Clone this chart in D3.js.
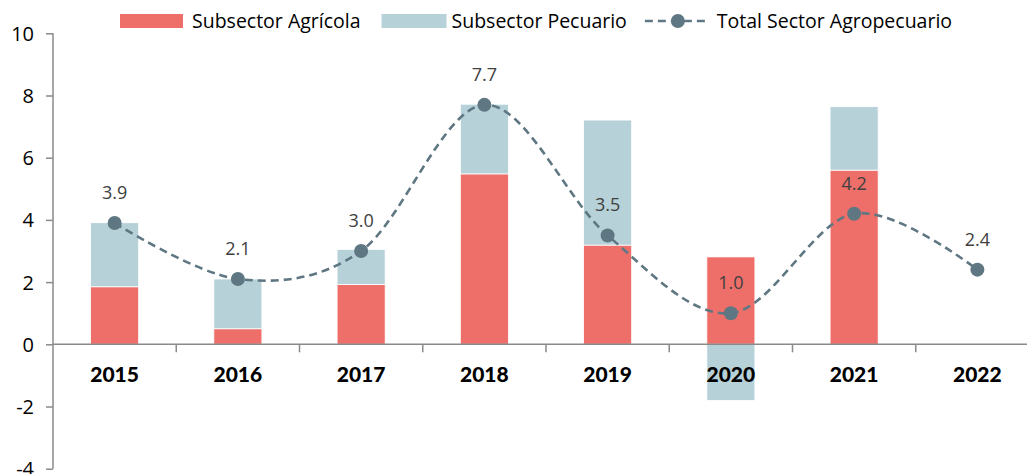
<!DOCTYPE html>
<html>
<head>
<meta charset="utf-8">
<script src="https://cdn.jsdelivr.net/npm/d3@7"></script>
<style>
  html, body { margin: 0; padding: 0; background: #fff; }
  svg { display: block; font-family: "Open Sans", sans-serif; }
</style>
</head>
<body>
<svg id="chart" width="1027" height="474"></svg>
<script>
// Growth by subsector (percentage points), 2015–2022
const years = ["2015", "2016", "2017", "2018", "2019", "2020", "2021", "2022"];
const agricola = [1.85, 0.50, 1.92, 5.48, 3.19, 2.81, 5.60, null];
const pecuario = [2.06, 1.60, 1.13, 2.24, 4.02, -1.81, 2.04, null];
const total = [3.9, 2.1, 3.0, 7.7, 3.5, 1.0, 4.2, 2.4];
const yTicks = [-4, -2, 0, 2, 4, 6, 8, 10];
const seriesNames = ["Subsector Agrícola", "Subsector Pecuario", "Total Sector Agropecuario"];

const colors = { agr: "#EE6F69", pec: "#B7D1D8", line: "#5F7782", axis: "#8A8A8A", label: "#404040" };

const svg = d3.select("#chart");

const x = d3.scaleBand().domain(years).range([53, 1039]).paddingInner(0.61).paddingOuter(0.305);
const xBoundary = d3.scaleBand().domain(years).range([53, 1039]).padding(0);
const y = d3.scaleLinear().domain([-4, 10]).range([468.7, 33.3]);

// Stacked bars: positive values stack upward from zero, negative ones downward
const stacks = years.map((yr, i) => {
  const parts = [];
  let pos = 0, neg = 0;
  [[agricola[i], colors.agr], [pecuario[i], colors.pec]].forEach(([v, c]) => {
    if (v == null) return;
    if (v >= 0) { parts.push({ y0: pos, y1: pos + v, c }); pos += v; }
    else { parts.push({ y0: neg, y1: neg + v, c }); neg += v; }
  });
  return { yr, parts };
});

const barG = svg.append("g");
stacks.forEach(s => {
  barG.selectAll(null).data(s.parts).enter().append("rect")
    .attr("x", x(s.yr))
    .attr("width", x.bandwidth())
    .attr("y", d => y(Math.max(d.y0, d.y1)))
    .attr("height", d => Math.abs(y(d.y0) - y(d.y1)))
    .attr("fill", d => d.c)
    .attr("stroke", "#ffffff")
    .attr("stroke-width", 0.8);
});

// Y axis
const yAxis = d3.axisLeft(y).tickValues(yTicks).tickSize(7).tickPadding(12).tickFormat(d => String(d));
const yG = svg.append("g").attr("transform", "translate(53,0)").call(yAxis);
yG.select(".domain").attr("stroke", colors.axis).attr("stroke-width", 1.5).attr("d", `M0,${y(10)}V${y(-4)}`);
yG.selectAll(".tick line").attr("stroke", colors.axis).attr("stroke-width", 1.5);
yG.selectAll(".tick text").attr("fill", "#000").style("font-size", "20px")
  .style("font-family", "'Open Sans', sans-serif").attr("dy", "0.35em");

// Category axis along zero
const xAxis = d3.axisBottom(xBoundary).tickSize(0).tickFormat("");
const xG = svg.append("g").attr("transform", `translate(0,${y(0)})`).call(xAxis);
xG.select(".domain").attr("stroke", colors.axis).attr("stroke-width", 1.5).attr("d", "M53,0H1039");
xG.selectAll(".tick").remove();
xG.selectAll(".sep").data(years.slice(1)).enter().append("line")
  .attr("x1", d => xBoundary(d)).attr("x2", d => xBoundary(d))
  .attr("y1", 0).attr("y2", 8)
  .attr("stroke", colors.axis).attr("stroke-width", 1.5);
xG.selectAll(".cat").data(years).enter().append("text")
  .attr("x", d => x(d) + x.bandwidth() / 2)
  .attr("y", 38)
  .attr("text-anchor", "middle")
  .style("font-family", "Lato, sans-serif")
  .style("font-size", "21px").style("font-weight", "900")
  .attr("fill", "#000")
  .text(d => d);

// Total line, smoothed
const cx = i => x(years[i]) + x.bandwidth() / 2;
const line = d3.line().x((d, i) => cx(i)).y(d => y(d)).curve(d3.curveCardinal.tension(0));
svg.append("path").datum(total)
  .attr("d", line)
  .attr("fill", "none")
  .attr("stroke", colors.line)
  .attr("stroke-width", 2.6)
  .attr("stroke-dasharray", "8,5");
svg.selectAll(".pt").data(total).enter().append("circle")
  .attr("cx", (d, i) => cx(i)).attr("cy", d => y(d)).attr("r", 7)
  .attr("fill", colors.line);
svg.selectAll(".val").data(total).enter().append("text")
  .attr("x", (d, i) => cx(i)).attr("y", d => y(d) - 24)
  .attr("text-anchor", "middle")
  .style("font-size", "18px")
  .attr("fill", colors.label)
  .text(d => d.toFixed(1));

// Legend
const lg = svg.append("g");
let lx = 120;
const ly = 21;
function legText(t) {
  const el = lg.append("text").attr("x", lx).attr("y", ly).attr("dy", "0.35em")
    .style("font-size", "19.5px").attr("fill", "#000").text(t);
  lx += el.node().getComputedTextLength();
}
lg.append("rect").attr("x", lx).attr("y", 14).attr("width", 63).attr("height", 14).attr("fill", colors.agr);
lx += 72; legText(seriesNames[0]); lx += 21;
lg.append("rect").attr("x", lx).attr("y", 14).attr("width", 65).attr("height", 14).attr("fill", colors.pec);
lx += 70; legText(seriesNames[1]); lx += 18;
lg.append("line").attr("x1", lx).attr("x2", lx + 65).attr("y1", ly).attr("y2", ly)
  .attr("stroke", colors.line).attr("stroke-width", 2.6).attr("stroke-dasharray", "8,5");
lg.append("circle").attr("cx", lx + 33).attr("cy", ly).attr("r", 7).attr("fill", colors.line);
lx += 72; legText(seriesNames[2]);
</script>
</body>
</html>
